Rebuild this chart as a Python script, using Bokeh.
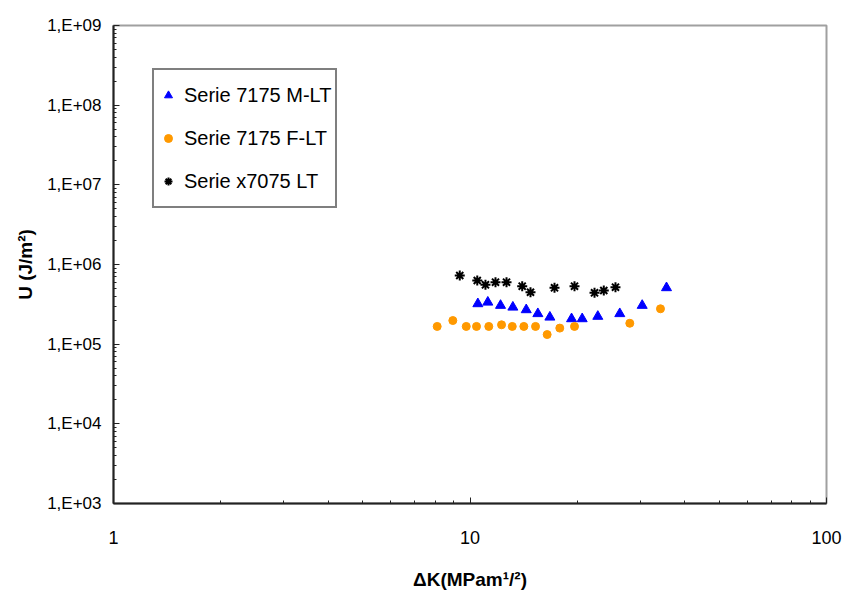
from bokeh.plotting import figure
from bokeh.models import FixedTicker, CustomJSTickFormatter, Legend, LegendItem
from bokeh.embed import file_html
from bokeh.resources import INLINE

# ---- data ----
dk_m = [10.52, 11.22, 12.18, 13.19, 14.38, 15.50, 16.75, 19.27, 20.64, 22.83, 26.31, 30.41, 35.58]
u_m = [3.21e5, 3.36e5, 3.06e5, 2.91e5, 2.70e5, 2.41e5, 2.18e5, 2.08e5, 2.08e5, 2.23e5, 2.41e5, 3.06e5, 5.10e5]

dk_f = [8.09, 8.95, 9.76, 10.43, 11.29, 12.26, 13.14, 14.16, 15.27, 16.46, 17.86, 19.64, 28.07, 34.22]
u_f = [1.67e5, 1.98e5, 1.67e5, 1.67e5, 1.67e5, 1.75e5, 1.67e5, 1.67e5, 1.67e5, 1.32e5, 1.59e5, 1.67e5, 1.83e5, 2.78e5]

dk_x = [9.36, 10.48, 11.05, 11.79, 12.66, 14.01, 14.78, 17.26, 19.64, 22.35, 23.73, 25.59]
u_x = [7.28e5, 6.30e5, 5.56e5, 6.0e5, 6.0e5, 5.35e5, 4.49e5, 5.10e5, 5.35e5, 4.41e5, 4.72e5, 5.19e5]

series_names = ["Serie 7175 M-LT", "Serie 7175 F-LT", "Serie x7075 LT"]
x_ticks = [1, 10, 100]
y_ticks = [1e3, 1e4, 1e5, 1e6, 1e7, 1e8, 1e9]
x_label = "\u0394K(MPam\u00b9/\u00b2)"
y_label = "U (J/m\u00b2)"

x_minor = [m * 10 ** e for e in range(0, 2) for m in range(2, 10)]
y_minor = [m * 10 ** e for e in range(3, 9) for m in range(2, 10)]

FONT = "Liberation Sans"

p = figure(width=844, height=603, x_axis_type="log", y_axis_type="log",
           x_range=(1, 100), y_range=(1e3, 1e9),
           output_backend="svg", toolbar_location=None,
           min_border_left=113, min_border_right=18, min_border_top=25, min_border_bottom=100)
p.background_fill_color = "white"
p.border_fill_color = "white"
p.outline_line_color = "#A0A0A0"
p.outline_line_width = 2
p.xgrid.visible = False
p.ygrid.visible = False

r_m = p.scatter(dk_m, u_m, marker="triangle", size=10, fill_color="#0000FF", line_color="#0000FF")
r_f = p.scatter(dk_f, u_f, marker="circle", size=8, fill_color="#FF9900", line_color="#FF9900")
r_x = p.scatter(dk_x, u_x, marker="asterisk", size=10, line_color="black", line_width=2)

for ax in (p.xaxis[0], p.yaxis[0]):
    ax.axis_line_color = "#222222"
    ax.axis_line_width = 2
    ax.major_tick_in = 6
    ax.major_tick_out = 0
    ax.minor_tick_in = 3
    ax.minor_tick_out = 0
    ax.major_tick_line_color = "#222222"
    ax.minor_tick_line_color = "#222222"
    ax.major_label_text_font = FONT
    ax.major_label_text_color = "black"
    ax.axis_label_text_font = FONT
    ax.axis_label_text_font_style = "bold"
    ax.axis_label_text_color = "black"

p.xaxis.ticker = FixedTicker(ticks=x_ticks, minor_ticks=x_minor)
p.yaxis.ticker = FixedTicker(ticks=y_ticks, minor_ticks=y_minor)
p.xaxis.formatter = CustomJSTickFormatter(code="return String(Math.round(tick));")
p.yaxis.formatter = CustomJSTickFormatter(
    code="const e = Math.round(Math.log10(tick)); return '1,E+' + (e < 10 ? '0' + e : '' + e);")
p.xaxis.major_label_text_font_size = "18px"
p.yaxis.major_label_text_font_size = "17px"
p.xaxis.major_label_standoff = 27
p.yaxis.major_label_standoff = 12
p.xaxis.axis_label = x_label
p.yaxis.axis_label = y_label
p.xaxis.axis_label_text_font_size = "19px"
p.yaxis.axis_label_text_font_size = "19px"
p.xaxis.axis_label_standoff = 22
p.yaxis.axis_label_standoff = 8

legend = Legend(items=[LegendItem(label=series_names[0], renderers=[r_m]),
                       LegendItem(label=series_names[1], renderers=[r_f]),
                       LegendItem(label=series_names[2], renderers=[r_x])],
                location=(39, 295))
legend.label_text_font = FONT
legend.label_text_font_size = "20px"
legend.label_text_color = "black"
legend.border_line_color = "black"
legend.border_line_width = 2
legend.background_fill_color = "white"
legend.background_fill_alpha = 1
legend.padding = 4
legend.margin = 0
legend.spacing = 1
legend.glyph_width = 20
legend.glyph_height = 42
legend.label_height = 42
legend.label_standoff = 6
p.add_layout(legend, "center")

open("out.html", "w").write(file_html(p, INLINE))
